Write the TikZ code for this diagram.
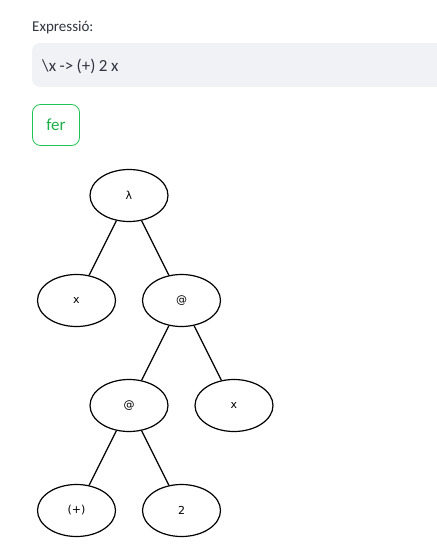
\documentclass[tikz,border=0pt]{standalone}
\usepackage{fontspec}
\usetikzlibrary{shapes, positioning}
\newfontfamily\uifont{Carlito}
\newfontfamily\exprfont[WordSpace=0.9]{Carlito}
\newfontfamily\treefont{DejaVu Sans}
\definecolor{uitext}{HTML}{31333F}
\definecolor{fieldgray}{HTML}{F0F2F6}
\definecolor{btngreen}{HTML}{21C354}
\definecolor{btntext}{HTML}{1DB04B}

\begin{document}
\begin{tikzpicture}[x=1pt, y=-1pt,
    term/.style={draw, ellipse, line width=1.2pt, minimum width=78pt, minimum height=52pt, inner sep=0pt, font=\treefont\fontsize{11}{13}\selectfont},
    on grid, node distance=105pt and 52.5pt]

        \path[use as bounding box] (0,0) rectangle (436,553);

        % Input field
        \node[anchor=base west, inner sep=0pt, text=uitext, font=\uifont\fontsize{15}{17}\selectfont] (label) at (32,32) {Expressió:};
        \path[fill=fieldgray, rounded corners=8pt] (32,43) rectangle (446,87);
        \node[anchor=west, inner sep=0pt, text=uitext, font=\exprfont\fontsize{17}{19}\selectfont] (expr) at (42,66) {\textbackslash x -> (+) 2 x};

        % Button
        \node[draw=btngreen, line width=0.8pt, rounded corners=8pt, minimum width=47pt, minimum height=41pt, text=btntext, font=\uifont\fontsize{17}{19}\selectfont] (fer) at (56,125) {fer};

        % Tree
        \node[term] (lam) at (129,195.5) {λ};
        \node[term, below left=of lam] (var) {x};
        \node[term, below right=of lam] (app1) {@};
        \draw[line width=1.2pt] (lam) -- (var);
        \draw[line width=1.2pt] (lam) -- (app1);

        \node[term, below left=of app1] (app2) {@};
        \node[term, below right=of app1] (arg) {x};
        \draw[line width=1.2pt] (app1) -- (app2);
        \draw[line width=1.2pt] (app1) -- (arg);

        \node[term, below left=of app2] (plus) {(+)};
        \node[term, below right=of app2] (two) {2};
        \draw[line width=1.2pt] (app2) -- (plus);
        \draw[line width=1.2pt] (app2) -- (two);

    \end{tikzpicture}
\end{document}
